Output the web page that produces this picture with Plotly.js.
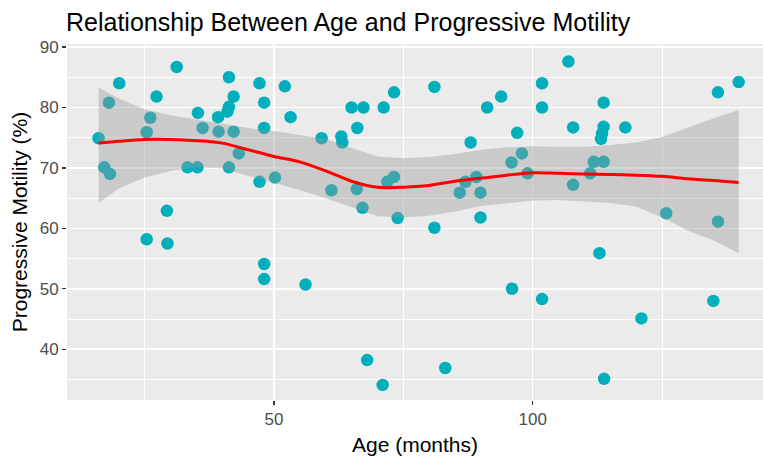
<!DOCTYPE html>
<html>
<head>
<meta charset="utf-8">
<script src="https://cdn.plot.ly/plotly-3.0.1.min.js"></script>
<style>
html,body{margin:0;padding:0;background:#fff;overflow:hidden;}
#chart{width:763px;height:464px;}
</style>
</head>
<body>
<div id="chart"></div>
<script>
// Scatter data: age (months) and progressive motility (%)
const ageMonths = [16.1,18.1,20.1,17.2,18.3,25.4,26.1,27.3,31.2,29.3,25.4,29.4,33.3,35.2,35.3,36.2,39.2,39.3,41.3,42.2,
  41.3,41.0,42.2,43.2,41.3,47.2,48.1,48.1,47.2,50.2,52.1,53.2,48.1,48.1,56.1,59.2,63.0,63.2,65.0,67.3,
  66.1,71.2,73.2,61.1,66.0,67.1,71.9,73.2,73.9,68.0,71.0,81.0,81.0,83.1,88.0,85.9,87.0,89.1,89.9,89.9,
  91.2,93.9,97.0,95.9,97.9,99.0,96.0,101.8,101.8,101.8,106.9,107.8,107.8,111.1,111.8,113.7,113.7,113.7,113.4,113.2,
  117.9,112.9,113.8,121.0,125.8,134.9,135.8,135.8,139.8];
const motility = [74.9,80.8,84.0,70.1,69.0,75.9,78.3,81.8,86.7,62.9,58.2,57.5,70.1,70.1,79.1,76.6,78.4,76.0,85.0,81.8,
  80.1,79.3,76.0,72.4,70.1,84.0,80.8,76.6,67.7,68.4,83.5,78.4,54.1,51.6,50.7,74.9,75.2,74.2,80.0,80.0,
  76.6,80.0,82.5,66.3,66.5,63.4,67.7,68.5,61.7,38.2,34.1,83.4,60.1,36.9,74.2,65.9,67.7,68.5,65.9,61.8,
  80.0,81.8,75.8,70.9,72.4,69.1,50.0,84.0,80.0,48.3,87.6,76.7,67.2,69.1,71.0,71.0,80.8,76.8,75.7,74.8,
  76.7,55.9,35.1,45.1,62.5,48.0,61.1,82.5,84.2];

// LOESS smooth
const smoothX   = [16.1,20,25,30,35,40,45,50,55,60,65,70,75,80,85,90,95,100,105,110,115,120,125,130,135,139.8];
const smoothFit = [74.1,74.4,74.7,74.7,74.5,74.1,73.0,71.9,71.0,69.5,67.8,66.8,66.8,67.1,67.8,68.3,68.8,69.2,69.1,69.0,68.9,68.8,68.6,68.2,67.9,67.6];
const smoothUpper = [83.3,81.5,79.7,78.7,78.0,77.3,76.6,76.1,75.4,74.8,73.3,71.9,71.6,71.8,72.3,73.0,73.4,73.6,73.5,73.5,73.8,74.2,75.1,76.7,78.2,79.6];
const smoothLower = [64.2,66.6,68.4,69.5,70.1,69.9,68.7,67.6,66.3,65.0,63.5,62.0,61.8,62.1,62.8,63.7,64.2,64.6,64.7,64.5,64.2,63.6,61.8,59.6,58.0,55.9];

const chartTitle = "Relationship Between Age and Progressive Motility";
const xTitle = "Age (months)";
const yTitle = "Progressive Motility (%)";

const font = "Arial, 'Liberation Sans', sans-serif";

const traces = [
  {
    type: "scatter", mode: "markers",
    x: ageMonths, y: motility,
    marker: {color: "#00AFBB", size: 12.5, line: {width: 0}},
    hoverinfo: "skip", showlegend: false
  },
  {
    type: "scatter", mode: "lines",
    x: smoothX.concat(smoothX.slice().reverse()),
    y: smoothUpper.concat(smoothLower.slice().reverse()),
    fill: "toself", fillcolor: "rgba(153,153,153,0.4)",
    line: {width: 0, color: "rgba(0,0,0,0)"},
    hoverinfo: "skip", showlegend: false
  },
  {
    type: "scatter", mode: "lines",
    x: smoothX, y: smoothFit,
    line: {color: "#FF0000", width: 3, shape: "spline", smoothing: 0.8},
    hoverinfo: "skip", showlegend: false
  }
];

const axisCommon = {
  showline: false, zeroline: false,
  gridcolor: "#FFFFFF", gridwidth: 1.5,
  ticks: "outside", ticklen: 4, tickwidth: 1.2, tickcolor: "#333333",
  tickfont: {family: font, size: 17, color: "#4D4D4D"}
};

const layout = {
  width: 763, height: 464,
  margin: {l: 67, r: 0, t: 44, b: 64, pad: 0},
  paper_bgcolor: "#FFFFFF",
  plot_bgcolor: "#EBEBEB",
  font: {family: font, color: "#000000"},
  title: {
    text: chartTitle,
    font: {family: font, size: 25, color: "#000000"},
    xref: "container", yref: "container",
    x: 66/763, xanchor: "left",
    y: 1 - 22/464, yanchor: "middle"
  },
  xaxis: Object.assign({}, axisCommon, {
    range: [10.0, 144.5],
    tick0: 0, dtick: 50,
    minor: {tick0: 0, dtick: 25, showgrid: true, gridcolor: "#FFFFFF", gridwidth: 1, ticks: ""},
    title: {text: xTitle, font: {family: font, size: 21, color: "#000000"}, standoff: 8}
  }),
  yaxis: Object.assign({}, axisCommon, {
    range: [31.6, 90.5],
    tick0: 0, dtick: 10,
    minor: {tick0: 0, dtick: 5, showgrid: true, gridcolor: "#FFFFFF", gridwidth: 1, ticks: ""},
    title: {text: yTitle, font: {family: font, size: 21, color: "#000000"}, standoff: 6}
  })
};

Plotly.newPlot("chart", traces, layout, {staticPlot: true, displayModeBar: false});
</script>
</body>
</html>
